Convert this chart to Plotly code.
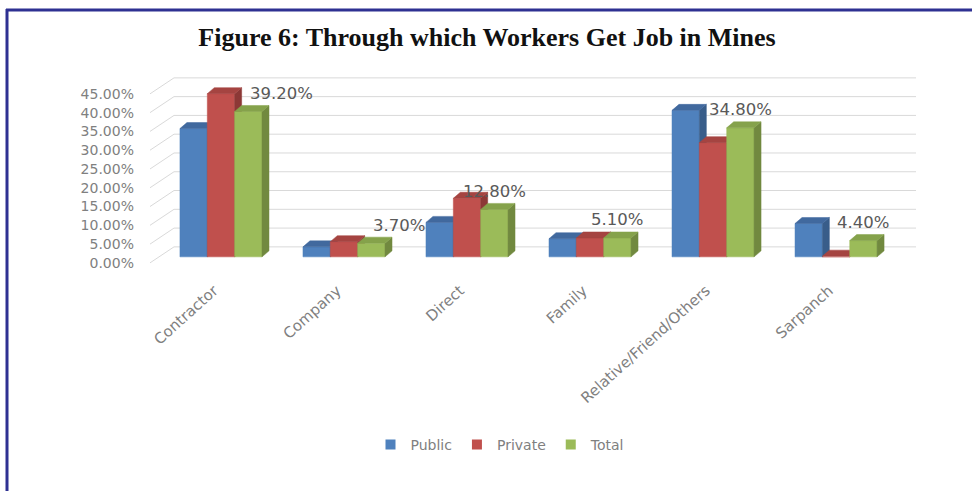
import plotly.graph_objects as go

# ---------------- data ----------------
CATEGORIES = ["Contractor", "Company", "Direct", "Family", "Relative/Friend/Others", "Sarpanch"]
SERIES_NAMES = ["Public", "Private", "Total"]
PUBLIC = [34.6, 2.7, 9.3, 4.9, 39.5, 9.0]
PRIVATE = [44.0, 4.1, 15.8, 5.1, 30.8, 0.2]
TOTAL = [39.2, 3.7, 12.8, 5.1, 34.8, 4.4]
Y_TICKS = [0, 5, 10, 15, 20, 25, 30, 35, 40, 45]
Y_TICK_LABELS = ["0.00%", "5.00%", "10.00%", "15.00%", "20.00%", "25.00%",
                 "30.00%", "35.00%", "40.00%", "45.00%"]
TITLE = "Figure 6: Through which Workers Get Job in Mines"

# ---------------- style ----------------
FRONT = ["#4F81BD", "#C0504D", "#9BBB59"]
SIDE = ["#385D8A", "#8C3836", "#71893F"]
TOPC = ["#41699E", "#A54441", "#85A24B"]
GRID = "#D9D9D9"
AXIS_TEXT = "#808080"
LABEL_TEXT = "#595959"
BORDER = "#2E3192"

W, H = 972, 491
L, R, T, B = 150, 916, 64, 268          # plot area in pixels
X_RANGE = [-0.577, 5.650]
Y_RANGE = [-3, 52]
XS = (R - L) / (X_RANGE[1] - X_RANGE[0])  # px per x unit
YS = (B - T) / (Y_RANGE[1] - Y_RANGE[0])  # px per y unit

GROUP = 0.667
BW = GROUP / 3
DX = 7 / XS            # depth offset (3D look)
DY = 6 / YS
WALL_X = X_RANGE[0] + 24 / XS
WALL_OFF, WALL_SCALE = 2.7, 1.0125      # back wall gridlines
FRONT_OFF, FRONT_SCALE = -1.62, 1.0127  # front edge (tick labels)
LABEL_XSHIFT = [33, 28, 0, 0, 0, 0]

fig = go.Figure()

# back wall gridlines + left wall lines
gx, gy, wx, wy = [], [], [], []
for v in Y_TICKS:
    yb = WALL_OFF + WALL_SCALE * v
    gx += [WALL_X, X_RANGE[1], None]
    gy += [yb, yb, None]
    wx += [X_RANGE[0], WALL_X, None]
    wy += [FRONT_OFF + FRONT_SCALE * v, yb, None]
fig.add_trace(go.Scatter(x=gx, y=gy, mode="lines", line=dict(color=GRID, width=1),
                         showlegend=False, hoverinfo="skip"))
fig.add_trace(go.Scatter(x=wx, y=wy, mode="lines", line=dict(color=GRID, width=1),
                         showlegend=False, hoverinfo="skip"))

# 3D-looking bars
for s, vals in enumerate([PUBLIC, PRIVATE, TOTAL]):
    fx, fy, sx, sy, tx, ty = [], [], [], [], [], []
    for i, v in enumerate(vals):
        x0 = i - GROUP / 2 + s * BW
        x1 = x0 + BW
        fx += [x0, x1, x1, x0, x0, None]
        fy += [0, 0, v, v, 0, None]
        sx += [x1, x1 + DX, x1 + DX, x1, x1, None]
        sy += [0, DY, v + DY, v, 0, None]
        tx += [x0, x1, x1 + DX, x0 + DX, x0, None]
        ty += [v, v, v + DY, v + DY, v, None]
    for xx, yy, c in [(fx, fy, FRONT[s]), (sx, sy, SIDE[s]), (tx, ty, TOPC[s])]:
        fig.add_trace(go.Scatter(x=xx, y=yy, mode="lines", fill="toself", fillcolor=c,
                                 line=dict(color=c, width=0.5), showlegend=False,
                                 hoverinfo="skip"))

# legend entries
for s, name in enumerate(SERIES_NAMES):
    fig.add_trace(go.Scatter(x=[None], y=[None], mode="markers", name=name,
                             marker=dict(symbol="square", size=10, color=FRONT[s])))

# data labels (Total series)
for i, v in enumerate(TOTAL):
    fig.add_annotation(x=i - GROUP / 2 + 2 * BW + BW / 2, y=v, text=f"{v:.2f}%",
                       showarrow=False, yshift=18, xshift=LABEL_XSHIFT[i],
                       font=dict(family="DejaVu Sans", size=16.5, color=LABEL_TEXT))


def px_x(p):
    return (p - L) / (R - L)


def px_y(p):
    return (B - p) / (B - T)


# frame (top + left border)
fig.add_shape(type="line", xref="paper", yref="paper", x0=px_x(6), x1=px_x(980),
              y0=px_y(10), y1=px_y(10), line=dict(color=BORDER, width=3))
fig.add_shape(type="line", xref="paper", yref="paper", x0=px_x(7), x1=px_x(7),
              y0=px_y(9), y1=px_y(500), line=dict(color=BORDER, width=3))

fig.update_layout(
    width=W, height=H,
    margin=dict(l=L, r=W - R, t=T, b=H - B),
    paper_bgcolor="white", plot_bgcolor="white",
    title=dict(text="<b>" + TITLE + "</b>", x=487 / W, xanchor="center",
               y=1 - 37 / H, yanchor="middle", xref="container", yref="container",
               font=dict(family="Liberation Serif", size=26, color="#111111")),
    xaxis=dict(range=X_RANGE, tickvals=list(range(len(CATEGORIES))), ticktext=CATEGORIES,
               tickangle=-42, showgrid=False, zeroline=False, showline=False, ticks="",
               ticklabelstandoff=10, ticklabelshift=-7,
               tickfont=dict(family="DejaVu Sans", size=15, color=AXIS_TEXT)),
    yaxis=dict(range=Y_RANGE, tickvals=[FRONT_OFF + FRONT_SCALE * v for v in Y_TICKS],
               ticktext=Y_TICK_LABELS, showgrid=False, zeroline=False, showline=False,
               ticks="", ticklabelstandoff=15,
               tickfont=dict(family="DejaVu Sans", size=14, color=AXIS_TEXT)),
    legend=dict(orientation="h", x=px_x(500), xanchor="center", y=px_y(445),
                yanchor="middle", font=dict(family="DejaVu Sans", size=14, color=AXIS_TEXT),
                itemwidth=30),
    showlegend=True,
)

fig.write_html("out.html")
